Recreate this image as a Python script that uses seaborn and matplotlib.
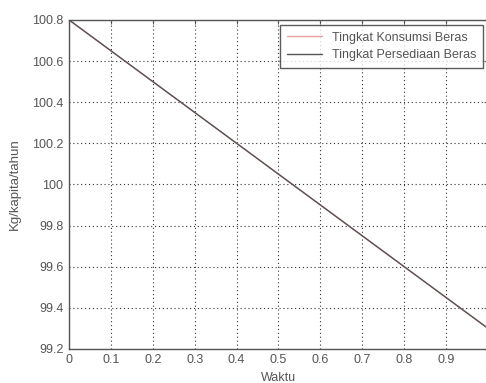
import pandas as pd
import matplotlib
matplotlib.use('Agg')
import matplotlib.pyplot as plt
import seaborn as sns

# Data
waktu = [0.0, 0.1, 0.2, 0.3, 0.4, 0.5, 0.6, 0.7, 0.8, 0.9, 1.0]
konsumsi = [100.80, 100.65, 100.50, 100.35, 100.20, 100.05, 99.90, 99.75, 99.60, 99.45, 99.30]
persediaan = [100.80, 100.65, 100.50, 100.35, 100.20, 100.05, 99.90, 99.75, 99.60, 99.45, 99.30]
x_ticks = [0, 0.1, 0.2, 0.3, 0.4, 0.5, 0.6, 0.7, 0.8, 0.9, 1]
x_labels = ['0', '0.1', '0.2', '0.3', '0.4', '0.5', '0.6', '0.7', '0.8', '0.9', '1']
y_ticks = [99.2, 99.4, 99.6, 99.8, 100, 100.2, 100.4, 100.6, 100.8]
y_labels = ['99.2', '99.4', '99.6', '99.8', '100', '100.2', '100.4', '100.6', '100.8']

df = pd.DataFrame({
    'Waktu': waktu * 2,
    'Nilai': konsumsi + persediaan,
    'Seri': ['Tingkat Konsumsi Beras'] * len(waktu) + ['Tingkat Persediaan Beras'] * len(waktu),
})

sns.set_style('white')
plt.rcParams['font.family'] = ['Liberation Sans', 'DejaVu Sans']

fig = plt.figure(figsize=(4.86, 3.83), dpi=100)
ax = fig.add_axes([0.142, 0.089, 0.862, 0.859])

sns.lineplot(data=df, x='Waktu', y='Nilai', hue='Seri',
             palette={'Tingkat Konsumsi Beras': '#e8a0a0', 'Tingkat Persediaan Beras': '#555555'},
             linewidth=1.0, ax=ax)

ax.set_xlim(0, 1)
ax.set_ylim(99.2, 100.8)
ax.set_xticks(x_ticks)
ax.set_xticklabels(x_labels)
ax.set_yticks(y_ticks)
ax.set_yticklabels(y_labels)
ax.tick_params(direction='in', length=3, top=True, right=True, labelsize=9, colors='#555555', pad=4)
ax.grid(True, color='#333333', linestyle=(0, (1, 2.5)), linewidth=0.8)
for s in ax.spines.values():
    s.set_color('#555555')
    s.set_linewidth(1.0)

ax.set_xlabel('Waktu', fontsize=9, color='#555555', labelpad=4)
ax.set_ylabel('Kg/kapita/tahun', fontsize=9.5, color='#555555', labelpad=8)

leg = ax.legend(loc='upper right', fontsize=9, frameon=True, fancybox=False,
                edgecolor='#333333', borderpad=0.55, handlelength=2.8, labelspacing=0.45,
                bbox_to_anchor=(0.988, 0.985), borderaxespad=0)
leg.get_frame().set_linewidth(1.0)
for t in leg.get_texts():
    t.set_color('#555555')

fig.savefig('out.png', dpi=100)
